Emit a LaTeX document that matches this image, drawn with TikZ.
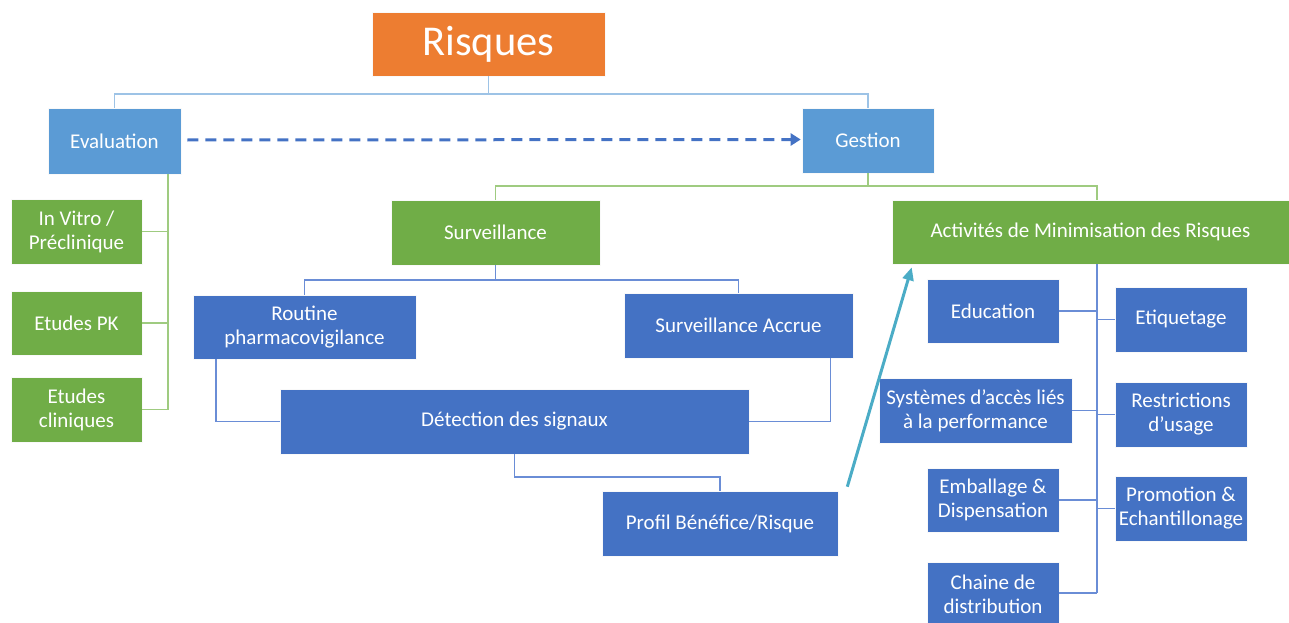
\documentclass[tikz,border=0pt]{standalone}
\usepackage{fontspec}
\setmainfont{Carlito}
\usetikzlibrary{calc,arrows.meta}
\definecolor{risqueorange}{HTML}{ED7D31}
\definecolor{midblue}{HTML}{5B9BD5}
\definecolor{leafgreen}{HTML}{70AD47}
\definecolor{deepblue}{HTML}{4472C4}
\definecolor{paleblue}{HTML}{9DC3E6}
\definecolor{palegreen}{HTML}{9FCB80}
\definecolor{linkblue}{HTML}{6A8DD6}
\definecolor{tealarrow}{HTML}{4BACC6}
\tikzset{
  card/.style={rectangle, inner sep=2pt, text=white, align=center,
    font=\fontsize{21}{24}\selectfont, draw=white!75!black!10, line width=0.6pt},
  orangecard/.style={card, fill=risqueorange, font=\fontsize{42.5}{46}\selectfont},
  skycard/.style={card, fill=midblue},
  greencard/.style={card, fill=leafgreen},
  bluecard/.style={card, fill=deepblue},
  toplink/.style={draw=paleblue, line width=1.6pt},
  greenlink/.style={draw=palegreen, line width=1.6pt},
  bluelink/.style={draw=linkblue, line width=1.6pt},
}
\begin{document}
\begin{tikzpicture}[x=1pt,y=-1pt]
\useasboundingbox (0,0) rectangle (1289,623);
\clip (0,0) rectangle (1289,623);

% Top level
\node[orangecard, minimum width=233, minimum height=64] (ris) at (488.5,44) {Risques};
\node[skycard, minimum width=133, minimum height=66] (eva) at (114.5,141) {Evaluation};
\node[skycard, minimum width=132, minimum height=65] (ges) at (868,140.5) {Gestion};

% Evaluation branch
\node[greencard, minimum width=131, minimum height=65] (ivp) at (76.5,231.5) {In Vitro /\\Préclinique};
\node[greencard, minimum width=131, minimum height=64] (epk) at (76.5,323) {Etudes PK};
\node[greencard, minimum width=131, minimum height=65] (ecl) at (76.5,409.5) {Etudes\\cliniques};

% Gestion branch
\node[greencard, minimum width=209, minimum height=65] (sur) at (495.5,232.5) {Surveillance};
\node[greencard, minimum width=397, minimum height=64] (act) at (1090.5,232) {Activités de Minimisation des Risques};

% Surveillance branch
\node[bluecard, minimum width=223, minimum height=64] (rou) at (304.5,327) {Routine\\pharmacovigilance};
\node[bluecard, minimum width=229, minimum height=65] (sac) at (738.5,325.5) {Surveillance Accrue};
\node[bluecard, minimum width=469, minimum height=65] (det) at (514.5,421.5) {Détection des signaux};
\node[bluecard, minimum width=236, minimum height=65] (pro) at (720,523.5) {Profil Bénéfice/Risque};

% Minimisation activities
\node[bluecard, minimum width=132, minimum height=64] (edu) at (993,311) {Education};
\node[bluecard, minimum width=132, minimum height=65] (eti) at (1181,319.5) {Etiquetage};
\node[bluecard, minimum width=193, minimum height=65] (sys) at (975.5,410.5) {Systèmes d'accès liés\\à la performance};
\node[bluecard, minimum width=132, minimum height=65] (res) at (1181,414.5) {Restrictions\\d'usage};
\node[bluecard, minimum width=132, minimum height=64] (emb) at (993,500) {Emballage \&\\Dispensation};
\node[bluecard, minimum width=132, minimum height=65] (prm) at (1181,508.5) {Promotion \&\\Echantillonage};
\node[bluecard, minimum width=132, minimum height=65] (cha) at (993,594.5) {Chaine de\\distribution};

% Helper coordinates for the elbow connectors
\coordinate (topbar) at (0,94);
\coordinate (evaspine) at (168,174);
\coordinate (gesbar) at (0,186);
\coordinate (actspine) at (1097,186);
\coordinate (surbar) at (0,280);
\coordinate (detbar) at (0,477);
\coordinate (actfoot) at (1097,593);

% Risques -> Evaluation / Gestion
\draw[toplink] (ris.south) -- (ris.south |- topbar);
\draw[toplink] (eva.north) |- (ris.south |- topbar) -| (ges.north);

% Evaluation -> studies
\draw[greenlink] (evaspine) |- (ecl.east);
\draw[greenlink] (ivp.east) -- (ivp.east -| evaspine);
\draw[greenlink] (epk.east) -- (epk.east -| evaspine);

% Gestion -> Surveillance / Activites
\draw[greenlink] (ges.south) -- (ges.south |- gesbar);
\draw[greenlink] (sur.north) |- (ges.south |- gesbar) -| (act.north -| actspine);

% Evaluation feeds Gestion
\draw[deepblue, line width=3pt, dash pattern=on 11pt off 7pt,
  -{Triangle[length=10pt,width=12pt]}] ($(eva.east)+(6,-1)$) -- ($(ges.west)+(-1,-1)$);

% Surveillance branch
\draw[bluelink] (sur.south) -- (sur.south |- surbar);
\draw[bluelink] (rou.north) |- (sur.south |- surbar) -| (sac.north);
\draw[bluelink] ($(rou.south west)+(23,0)$) |- (det.west);
\draw[bluelink] ($(sac.south east)+(-23,0)$) |- (det.east);
\draw[bluelink] (det.south) |- (det.south |- detbar) -| (pro.north);

% Profil -> Activites
\draw[tealarrow, line width=3pt, -{Triangle[length=13pt,width=11pt]}]
  ($(pro.north east)+(9,-4)$) -- ($(act.south west)+(20,3)$);

% Activites spine and branches
\draw[bluelink] (act.south -| actspine) -- (actfoot);
\draw[bluelink] (edu.east) -- (edu.east -| actspine);
\draw[bluelink] (eti.west) -- (eti.west -| actspine);
\draw[bluelink] (sys.east) -- (sys.east -| actspine);
\draw[bluelink] (res.west) -- (res.west -| actspine);
\draw[bluelink] (emb.east) -- (emb.east -| actspine);
\draw[bluelink] (prm.west) -- (prm.west -| actspine);
\draw[bluelink] (cha.east |- actfoot) -- (actfoot);
\end{tikzpicture}
\end{document}
